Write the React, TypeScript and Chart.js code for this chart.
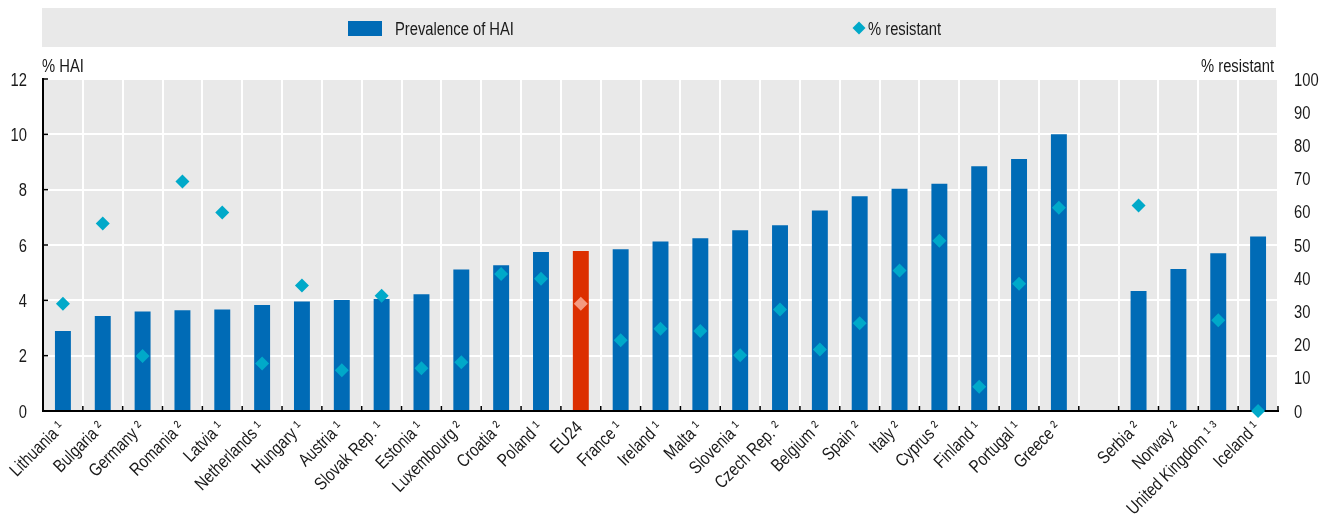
import React, { useEffect, useRef } from 'react';
import { Chart, registerables } from 'chart.js';

Chart.register(...registerables);

const categories = [
  'Lithuania ¹', 'Bulgaria ²', 'Germany ²', 'Romania ²', 'Latvia ¹', 'Netherlands ¹', 'Hungary ¹',
  'Austria ¹', 'Slovak Rep. ¹', 'Estonia ¹', 'Luxembourg ²', 'Croatia ²', 'Poland ¹', 'EU24',
  'France ¹', 'Ireland ¹', 'Malta ¹', 'Slovenia ¹', 'Czech Rep. ²', 'Belgium ²', 'Spain ²',
  'Italy ²', 'Cyprus ²', 'Finland ¹', 'Portugal ¹', 'Greece ²', '', 'Serbia ²', 'Norway ²',
  'United Kingdom ¹ ³', 'Iceland ¹',
];

const haiPrevalence = [
  2.89, 3.43, 3.6, 3.64, 3.67, 3.83, 3.96, 4.01, 4.05, 4.22, 5.11, 5.27, 5.75, 5.78, 5.85, 6.13,
  6.24, 6.53, 6.71, 7.25, 7.76, 8.03, 8.21, 8.85, 9.11, 10.0, null, 4.34, 5.13, 5.7, 6.31,
];

const pctResistant = [
  32.3, 56.5, 16.6, 69.1, 59.8, 14.3, 37.8, 12.3, 34.7, 12.9, 14.7, 41.3, 39.8, 32.3, 21.3, 24.8,
  24.1, 16.8, 30.6, 18.5, 26.4, 42.3, 51.3, 7.3, 38.3, 61.2, null, 61.9, null, 27.3, 0,
];

const highlight = 'EU24';
const leftAxisMax = 12;
const leftAxisStep = 2;
const rightAxisMax = 100;
const rightAxisStep = 10;

const FONT = "'Liberation Sans', Arial, sans-serif";
const NARROW = 0.82;
const BLUE = '#006BB6';
const RED = '#DC2F00';
const CYAN = '#00A9C9';
const SALMON = '#F49A80';
const BG = '#E9E9E9';
const TEXT = '#1A1A1A';

function narrowText(
  ctx: CanvasRenderingContext2D,
  text: string,
  x: number,
  y: number,
  align: CanvasTextAlign,
  rotation = 0,
) {
  ctx.save();
  ctx.translate(x, y);
  if (rotation) ctx.rotate(rotation);
  ctx.scale(NARROW, 1);
  ctx.textAlign = align;
  ctx.fillText(text, 0, 0);
  ctx.restore();
}

const decorPlugin = {
  id: 'decor',
  beforeDraw(chart: any) {
    const { ctx, chartArea: a } = chart;
    ctx.save();
    ctx.fillStyle = BG;
    ctx.fillRect(a.left, a.top, a.right - a.left, a.bottom - a.top);
    // legend box
    ctx.fillRect(42, 8, 1234, 39);
    ctx.fillStyle = BLUE;
    ctx.fillRect(348, 21, 34, 15);
    ctx.fillStyle = CYAN;
    ctx.beginPath();
    ctx.moveTo(859, 21.5);
    ctx.lineTo(865.5, 28);
    ctx.lineTo(859, 34.5);
    ctx.lineTo(852.5, 28);
    ctx.closePath();
    ctx.fill();
    ctx.fillStyle = TEXT;
    ctx.font = `18px ${FONT}`;
    ctx.textBaseline = 'alphabetic';
    narrowText(ctx, 'Prevalence of HAI', 395, 35, 'left');
    narrowText(ctx, '% resistant', 868, 35, 'left');
    // axis titles
    narrowText(ctx, '% HAI', 42, 72, 'left');
    narrowText(ctx, '% resistant', 1274, 72, 'right');
    ctx.restore();
  },
  afterDraw(chart: any) {
    const { ctx, chartArea: a } = chart;
    const y = chart.scales.y;
    const y2 = chart.scales.y2;
    const x = chart.scales.x;
    ctx.save();
    // inward tick marks
    ctx.strokeStyle = '#000';
    ctx.lineWidth = 1.5;
    y.ticks.forEach((_t: any, i: number) => {
      const py = y.getPixelForTick(i);
      ctx.beginPath();
      ctx.moveTo(a.left, py);
      ctx.lineTo(a.left + 5, py);
      ctx.stroke();
    });
    const n = categories.length;
    const w = (a.right - a.left) / n;
    for (let i = 1; i <= n; i++) {
      const px = a.left + i * w;
      ctx.beginPath();
      ctx.moveTo(px, a.bottom);
      ctx.lineTo(px, a.bottom - 5);
      ctx.stroke();
    }
    // tick labels
    ctx.fillStyle = TEXT;
    ctx.font = `18px ${FONT}`;
    ctx.textBaseline = 'alphabetic';
    y.ticks.forEach((t: any, i: number) => {
      narrowText(ctx, String(t.value), 27, y.getPixelForTick(i) + 6.5, 'right');
    });
    y2.ticks.forEach((t: any, i: number) => {
      narrowText(ctx, String(t.value), 1294, y2.getPixelForTick(i) + 6.5, 'left');
    });
    ctx.textBaseline = 'middle';
    categories.forEach((c, i) => {
      if (!c) return;
      const cx = x.getPixelForValue(i);
      narrowText(ctx, c, cx - 1, a.bottom + 14, 'right', -Math.PI / 4);
    });
    ctx.restore();
  },
};

export default function App() {
  const ref = useRef<HTMLCanvasElement | null>(null);

  useEffect(() => {
    if (!ref.current) return;
    const chart = new Chart(ref.current, {
      type: 'bar',
      data: {
        labels: categories,
        datasets: [
          {
            type: 'line',
            label: '% resistant',
            data: pctResistant,
            yAxisID: 'y2',
            showLine: false,
            pointStyle: 'rectRot',
            pointRadius: 7,
            pointHoverRadius: 7,
            pointBorderWidth: 0,
            pointBackgroundColor: categories.map((c) => (c === highlight ? SALMON : CYAN)),
            pointBorderColor: categories.map((c) => (c === highlight ? SALMON : CYAN)),
            clip: false,
            order: 0,
          } as any,
          {
            type: 'bar',
            label: 'Prevalence of HAI',
            data: haiPrevalence,
            yAxisID: 'y',
            backgroundColor: categories.map((c) => (c === highlight ? RED : BLUE)),
            borderWidth: 0,
            categoryPercentage: 1,
            barPercentage: 0.4,
            order: 1,
          } as any,
        ],
      },
      options: {
        animation: false,
        responsive: false,
        events: [],
        layout: { padding: { top: 79, left: 0, right: 0, bottom: 0 } },
        plugins: { legend: { display: false }, tooltip: { enabled: false } },
        scales: {
          x: {
            offset: true,
            grid: { color: '#FFFFFF', lineWidth: 2, drawTicks: false, offset: true },
            border: { display: true, color: '#000', width: 2 },
            ticks: { display: false, autoSkip: false },
            afterFit: (s: any) => {
              s.height = 107;
              s.paddingLeft = 0;
              s.paddingRight = 0;
            },
          },
          y: {
            position: 'left',
            min: 0,
            max: leftAxisMax,
            ticks: { display: false, stepSize: leftAxisStep },
            grid: { color: '#FFFFFF', lineWidth: 2, drawTicks: false },
            border: { display: true, color: '#000', width: 2 },
            afterFit: (s: any) => {
              s.width = 43;
              s.paddingTop = 0;
              s.paddingBottom = 0;
            },
          },
          y2: {
            position: 'right',
            min: 0,
            max: rightAxisMax,
            ticks: { display: false, stepSize: rightAxisStep },
            grid: { drawOnChartArea: false, drawTicks: false },
            border: { display: false },
            afterFit: (s: any) => {
              s.width = 54;
              s.paddingTop = 0;
              s.paddingBottom = 0;
            },
          },
        },
      },
      plugins: [decorPlugin],
    });
    return () => chart.destroy();
  }, []);

  return (
    <div style={{ position: 'absolute', left: 0, top: 0, width: 1332, height: 518, background: '#fff' }}>
      <canvas ref={ref} width={1332} height={518} style={{ display: 'block' }} />
    </div>
  );
}
